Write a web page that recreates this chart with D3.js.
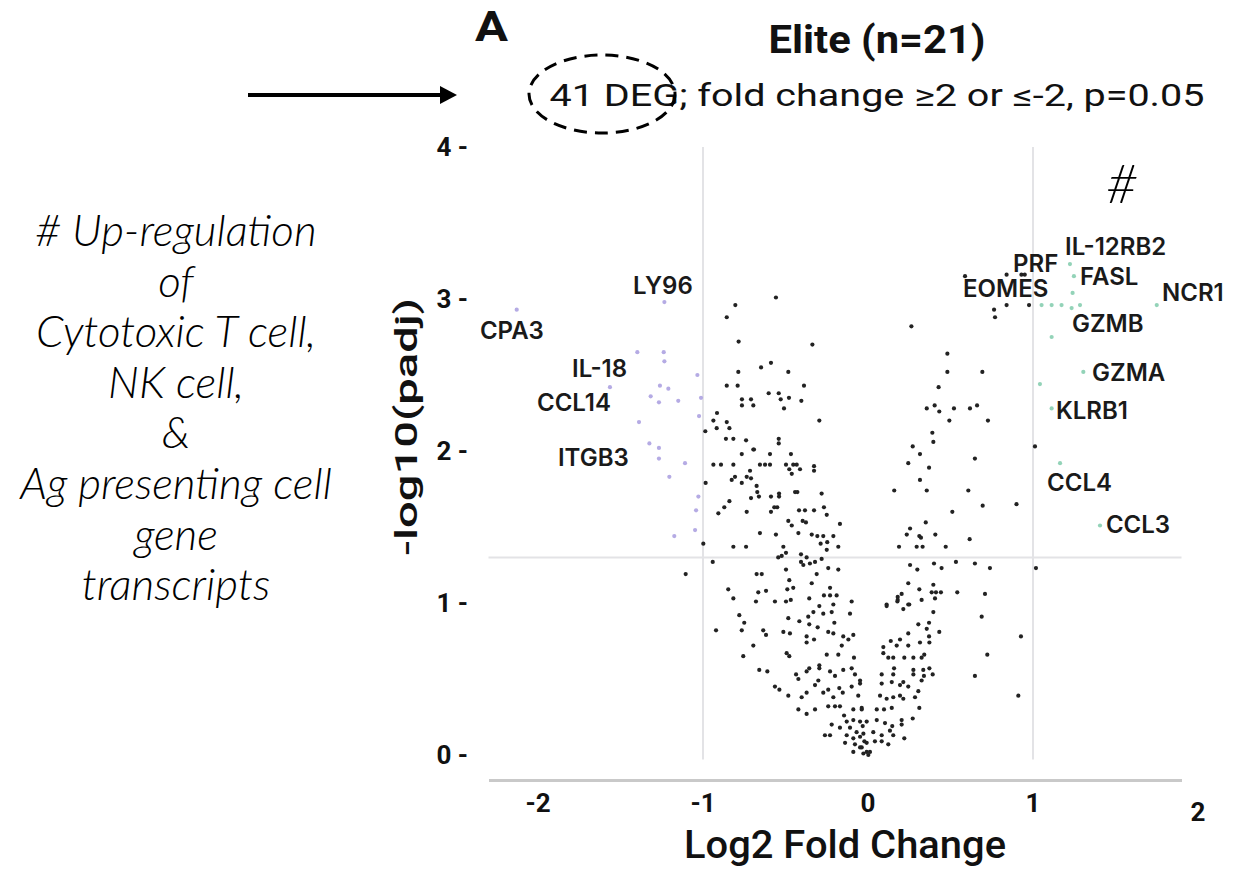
<!DOCTYPE html>
<html><head><meta charset="utf-8">
<script src="https://cdn.jsdelivr.net/npm/d3@7"></script>
<style>body{margin:0;background:#fff;}svg{display:block}</style>
</head><body>
<svg id="c" width="1237" height="891"></svg>
<script>
// ---------- DATA ----------
const xTicks = [-2, -1, 0, 1, 2];
const yTicks = [0, 1, 2, 3, 4];
const fcCutoffs = [-1, 1];          // log2 fold change = ±1 (fold change ±2)
const pCutoff = 1.30;               // -log10(0.05)

// up-regulated DEGs (log2FC, -log10 padj)
const upPoints = [[1.224,3.23],[1.248,3.15],[1.240,3.04],[1.052,2.96],[1.113,2.96],[1.173,2.96],[1.234,2.94],[1.285,2.96],[1.750,2.96],[1.113,2.75],[1.305,2.52],[1.042,2.44],[1.113,2.28],[1.164,1.92],[1.406,1.51]];

// down-regulated DEGs
const downPoints = [[-2.129,2.93],[-1.234,2.98],[-1.398,2.65],[-1.238,2.65],[-1.234,2.59],[-1.034,2.50],[-1.564,2.42],[-1.261,2.43],[-1.210,2.41],[-1.317,2.36],[-1.267,2.32],[-1.150,2.33],[-1.012,2.35],[-1.024,2.23],[-1.388,2.19],[-1.325,2.05],[-1.267,2.02],[-1.267,1.95],[-1.109,1.92],[-1.204,1.83],[-1.028,1.70],[-1.042,1.61],[-1.048,1.48],[-1.174,1.44]];

// other genes
const otherPoints = [
[-0.558,3.01],[-0.804,2.96],[-0.856,2.88],[-0.784,2.72],[-0.337,2.70],[-0.588,2.58],[-0.648,2.55],[-0.786,2.52],[-0.483,2.52],[-0.856,2.43],[-0.790,2.43],[-0.388,2.43],[-0.602,2.38],[-0.541,2.38],[-0.529,2.34],[-0.479,2.35],[-0.404,2.33],[-0.764,2.34],[-0.764,2.30],[-0.709,2.34],[-0.695,2.30],[-0.509,2.28],[-0.915,2.25],[-0.937,2.20],[-0.295,2.20],[-0.856,2.19],[-0.917,2.15],[-0.840,2.15],[-0.986,2.13],[-0.861,2.08],[-0.816,2.08],[-0.739,2.07],[-0.541,2.08],[-0.541,2.05],[-0.695,2.01],
[-0.984,1.79],[-0.998,1.39],[-1.105,1.19],[-0.941,1.27],
[0.588,3.15],[0.84,3.16],[0.93,3.16],[0.95,3.16],[0.84,2.96],[0.976,2.96],[0.764,2.93],[0.770,2.88],[0.263,2.82],[0.481,2.64],[0.481,2.52],[0.693,2.52],[0.428,2.42],[0.356,2.28],[0.404,2.30],[0.432,2.26],[0.521,2.28],[0.618,2.28],[0.661,2.30],[0.493,2.20],[0.727,2.20],[0.390,2.12],[0.396,2.06],[0.271,2.03],[1.012,2.03],[0.90,1.65],[1.018,1.23],
[-0.765,1.98],[-0.691,2.01],[-0.594,1.98],[-0.467,1.98],[-0.937,1.91],[-0.891,1.91],[-0.816,1.91],[-0.655,1.91],[-0.624,1.91],[-0.594,1.91],[-0.497,1.91],[-0.453,1.91],[-0.432,1.91],[-0.477,1.88],[-0.412,1.88],[-0.327,1.90],[-0.327,1.87],[-0.462,1.85],[-0.715,1.87],[-0.826,1.81],[-0.806,1.83],[-0.735,1.83],[-0.709,1.82],[-0.765,1.79],
[-0.675,1.77],[-0.671,1.73],[-0.661,1.70],[-0.709,1.69],[-0.588,1.70],[-0.539,1.72],[-0.539,1.70],[-0.442,1.73],[-0.428,1.73],[-0.281,1.72],[-0.840,1.67],[-0.871,1.63],[-0.907,1.59],[-0.735,1.60],[-0.588,1.60],[-0.568,1.63],[-0.550,1.63],[-0.418,1.61],[-0.382,1.61],[-0.327,1.61],[-0.267,1.63],[-0.250,1.58],[-0.483,1.54],[-0.462,1.51],[-0.396,1.54],[-0.376,1.53],[-0.170,1.52],[-0.655,1.46],[-0.558,1.45],[-0.422,1.46],[-0.341,1.45],[-0.307,1.44],[-0.271,1.44],[-0.210,1.44],[-0.287,1.39],[-0.247,1.40],[-0.250,1.35],[-0.180,1.37],[-0.816,1.37],[-0.739,1.37],[-0.513,1.37],[-0.544,1.30],[-0.523,1.31],[-0.497,1.33],[-0.406,1.32],[-0.372,1.30],[-0.281,1.29],[-0.406,1.27],[-0.392,1.25],[-0.352,1.26],[-0.321,1.27],[-0.241,1.23],[-0.180,1.22],[-0.497,1.22],[-0.311,1.19],[-0.675,1.19],[-0.644,1.19],[-0.477,1.15],[-0.341,1.13],[-0.847,1.09],[-0.816,1.03],[-0.665,1.07],[-0.618,1.08],[-0.489,1.09],[-0.453,1.10],[-0.230,1.10],[-0.267,1.05],[-0.230,1.05],[-0.190,1.05],[-0.679,1.01],[-0.564,1.01],[-0.497,1.01],[-0.468,1.02],[-0.356,1.03],[-0.099,1.01],
[0.315,1.98],[0.244,1.92],[0.370,1.89],[0.648,1.95],[0.315,1.81],[0.159,1.74],[0.356,1.74],[0.608,1.74],[0.695,1.64],[0.511,1.60],[0.350,1.53],[0.255,1.49],[0.235,1.45],[0.311,1.44],[0.321,1.43],[0.408,1.45],[0.188,1.37],[0.295,1.37],[0.331,1.37],[0.471,1.37],[0.616,1.42],[0.255,1.25],[0.299,1.22],[0.400,1.26],[0.446,1.23],[0.533,1.27],[0.648,1.26],[0.739,1.23],[0.244,1.13],[0.396,1.12],[0.311,1.09],[0.386,1.07],[0.412,1.07],[0.442,1.07],[0.541,1.07],[0.709,1.06],[0.204,1.06],[0.180,1.04],[0.180,1.02],[0.325,1.02],[0.406,1.03],[0.113,0.99],[0.244,0.99],
[-0.780,0.92],[-0.750,0.87],[-0.921,0.82],[-0.765,0.82],[-0.635,0.82],[-0.618,0.79],[-0.695,0.72],[-0.756,0.65],[-0.513,0.81],[-0.473,0.80],[-0.483,0.90],[-0.416,0.88],[-0.362,0.91],[-0.331,0.94],[-0.295,0.98],[-0.271,0.93],[-0.210,0.99],[-0.220,0.94],[-0.109,0.93],[-0.356,0.86],[-0.305,0.84],[-0.204,0.87],[-0.241,0.81],[-0.372,0.78],[-0.372,0.74],[-0.327,0.76],[-0.210,0.80],[-0.150,0.78],[-0.089,0.79],[-0.119,0.76],[-0.159,0.72],[-0.493,0.67],[-0.477,0.65],[-0.250,0.66],[-0.180,0.66],[-0.085,0.64],[-0.659,0.56],[-0.610,0.55],[-0.436,0.53],[-0.422,0.50],[-0.372,0.55],[-0.356,0.57],[-0.295,0.59],[-0.295,0.57],[-0.230,0.55],[-0.200,0.52],[-0.150,0.56],[-0.099,0.57],[-0.079,0.53],[-0.048,0.49],[-0.564,0.45],[-0.537,0.43],[-0.483,0.39],[-0.402,0.38],[-0.372,0.41],[-0.321,0.46],[-0.301,0.49],[-0.271,0.41],[-0.241,0.43],[-0.210,0.38],[-0.174,0.44],[-0.153,0.41],[-0.099,0.45],[-0.059,0.39],[-0.241,0.32],[-0.200,0.32],[-0.170,0.32],[-0.422,0.30],[-0.372,0.27],[-0.321,0.30],[-0.145,0.26],[-0.089,0.30],[-0.038,0.30],[-0.220,0.20],[-0.129,0.22],[-0.089,0.23],[-0.048,0.22],[-0.170,0.18],[-0.109,0.18],[-0.069,0.15],[-0.032,0.19],[-0.261,0.13],[-0.230,0.13],[-0.129,0.13],[-0.089,0.11],[-0.048,0.12],[-0.139,0.08],[-0.079,0.07],[-0.038,0.05],[-0.008,0.02],[-0.089,0.02],[-0.022,0.09],[0.002,0.00],
[0.113,0.98],[0.178,1.01],[0.250,0.99],[0.214,0.96],[0.396,0.94],[0.689,0.91],[0.927,0.78],[0.723,0.66],[0.648,0.52],[0.911,0.39],[0.305,0.86],[0.370,0.87],[0.356,0.83],[0.432,0.81],[0.244,0.80],[0.194,0.76],[0.138,0.75],[0.093,0.71],[0.174,0.72],[0.244,0.72],[0.315,0.74],[0.372,0.74],[0.093,0.67],[0.123,0.64],[0.153,0.64],[0.220,0.64],[0.275,0.64],[0.325,0.64],[0.341,0.66],[0.370,0.78],[0.083,0.53],[0.158,0.57],[0.153,0.53],[0.275,0.56],[0.275,0.53],[0.335,0.56],[0.339,0.52],[0.372,0.57],[0.392,0.53],[0.325,0.49],[0.083,0.47],[0.144,0.48],[0.194,0.46],[0.214,0.48],[0.244,0.45],[0.305,0.42],[0.073,0.39],[0.113,0.37],[0.153,0.38],[0.194,0.39],[0.214,0.37],[0.285,0.38],[0.053,0.30],[0.097,0.30],[0.144,0.31],[0.311,0.31],[-0.038,0.31],[-0.048,0.47],[-0.008,0.22],[0.053,0.23],[0.103,0.21],[0.147,0.19],[0.204,0.23],[0.204,0.20],[0.271,0.24],[-0.028,0.14],[0.032,0.15],[0.083,0.13],[0.133,0.16],[0.153,0.13],[0.220,0.11],[-0.008,0.08],[0.042,0.09],[0.083,0.09],[0.123,0.07],[0.012,0.02],[-0.028,0.01],[-0.048,0.05]
];

const geneNames = ["IL-12RB2","PRF","FASL","EOMES","NCR1","GZMB","GZMA","KLRB1","CCL4","CCL3","LY96","CPA3","IL-18","CCL14","ITGB3"];
// label anchor (text start, baseline) in data units
const geneLabelX = [1.194,0.879,1.285,0.576,1.782,1.236,1.358,1.139,1.085,1.442,-1.424,-2.352,-1.794,-2.006,-1.879];
const geneLabelY = [3.29,3.18,3.09,3.01,2.99,2.78,2.46,2.21,1.74,1.46,3.03,2.74,2.49,2.26,1.90];

const titleText = "Elite (n=21)";
const subtitleText = "41 DEG; fold change \u22652 or \u2264-2, p=0.05";
const panelLetter = "A";
const xLabel = "Log2 Fold Change";
const yLabel = "-log10(padj)";
const noteLines = ["# Up-regulation","of","Cytotoxic T cell,","NK cell,","&","Ag presenting cell","gene","transcripts"];

// ---------- DRAW ----------
const svg = d3.select("#c");
const x = d3.scaleLinear().domain([-2.3, 1.9]).range([488.5, 1181.5]);
const y = d3.scaleLinear().domain([0, 4]).range([755, 147]);
const tickFont = "Roboto, 'Liberation Sans', sans-serif";

// reference lines
const g = svg.append("g");
g.selectAll(".vline").data(fcCutoffs).enter().append("line")
  .attr("x1", d => x(d)).attr("x2", d => x(d))
  .attr("y1", y(4)).attr("y2", y(-0.03))
  .attr("stroke", "#e3e3e6").attr("stroke-width", 2);
g.append("line").attr("x1", x(-2.3)).attr("x2", x(1.9))
  .attr("y1", y(pCutoff)).attr("y2", y(pCutoff))
  .attr("stroke", "#e3e3e6").attr("stroke-width", 2);

// x axis: line from the axis generator, labels from the tick list
const xAxisY = y(-0.165);
const xAxis = svg.append("g").attr("transform", `translate(0,${xAxisY})`)
  .call(d3.axisBottom(x).tickValues(xTicks).tickSize(0).tickFormat(""));
xAxis.select(".domain").attr("stroke", "#c9c9c9").attr("stroke-width", 3);
svg.append("g").selectAll("text").data(xTicks).enter().append("text")
  .attr("x", d => x(d)).attr("y", d => xAxisY + (d === 2 ? 41 : 32))
  .attr("text-anchor", "middle")
  .attr("font-family", tickFont).attr("font-weight", 700).attr("font-size", 26)
  .attr("fill", "#111").text(d => d);

// y axis labels from the tick list
svg.append("g").selectAll("text").data(yTicks).enter().append("text")
  .attr("x", 468).attr("y", d => y(d)).attr("dy", "0.36em")
  .attr("text-anchor", "end")
  .attr("font-family", tickFont).attr("font-weight", 700).attr("font-size", 26)
  .attr("fill", "#111").text(d => d + " -");

// points
svg.append("g").selectAll("circle").data(otherPoints).enter().append("circle")
  .attr("cx", d => x(d[0])).attr("cy", d => y(d[1])).attr("r", 2.1)
  .attr("fill", "#222");
svg.append("g").selectAll("circle").data(downPoints).enter().append("circle")
  .attr("cx", d => x(d[0])).attr("cy", d => y(d[1])).attr("r", 2.1)
  .attr("fill", "#b5abe4");
svg.append("g").selectAll("circle").data(upPoints).enter().append("circle")
  .attr("cx", d => x(d[0])).attr("cy", d => y(d[1])).attr("r", 2.1)
  .attr("fill", "#93d3b8");

// gene labels
svg.append("g").selectAll("text").data(geneNames).enter().append("text")
  .attr("x", (d, i) => x(geneLabelX[i])).attr("y", (d, i) => y(geneLabelY[i]))
  .attr("font-family", "Inter, 'Liberation Sans', sans-serif").attr("font-weight", 600)
  .attr("font-size", 24).attr("fill", "#1a1a1a").text(d => d);

// axis titles
svg.append("text").attr("x", 845).attr("y", 858).attr("text-anchor", "middle")
  .attr("font-family", "Roboto, 'Liberation Sans', sans-serif").attr("font-weight", 500)
  .attr("font-size", 38).attr("fill", "#111")
  .attr("textLength", 322).attr("lengthAdjust", "spacingAndGlyphs").text(xLabel);
svg.append("text").attr("transform", "translate(417,427) rotate(-90)").attr("text-anchor", "middle")
  .attr("font-family", "Roboto, 'Liberation Sans', sans-serif").attr("font-weight", 500)
  .attr("font-size", 31).attr("fill", "#111")
  .attr("textLength", 258).attr("lengthAdjust", "spacingAndGlyphs").text(yLabel);

// titles
svg.append("text").attr("x", 877).attr("y", 53).attr("text-anchor", "middle")
  .attr("font-family", "Roboto, 'Liberation Sans', sans-serif").attr("font-weight", 700)
  .attr("font-size", 39).attr("fill", "#111")
  .attr("textLength", 217).attr("lengthAdjust", "spacingAndGlyphs").text(titleText);
svg.append("text").attr("x", 475).attr("y", 41)
  .attr("font-family", "Roboto, 'Liberation Sans', sans-serif").attr("font-weight", 700)
  .attr("font-size", 42).attr("fill", "#111")
  .attr("textLength", 33).attr("lengthAdjust", "spacingAndGlyphs").text(panelLetter);
svg.append("text").attr("x", 877).attr("y", 106).attr("text-anchor", "middle")
  .attr("font-family", "Roboto, 'Liberation Sans', sans-serif").attr("font-weight", 400)
  .attr("font-size", 31).attr("fill", "#111")
  .attr("textLength", 655).attr("lengthAdjust", "spacingAndGlyphs").text(subtitleText);

// dashed ellipse and arrow
svg.append("ellipse").attr("cx", 602).attr("cy", 94).attr("rx", 73).attr("ry", 39)
  .attr("fill", "none").attr("stroke", "#000").attr("stroke-width", 3)
  .attr("stroke-dasharray", "13 8");
svg.append("line").attr("x1", 248).attr("x2", 442).attr("y1", 95).attr("y2", 95)
  .attr("stroke", "#000").attr("stroke-width", 4);
svg.append("path").attr("d", "M440,86 L457,95 L440,104 Z").attr("fill", "#000");

// side note
svg.append("g").selectAll("text").data(noteLines).enter().append("text")
  .attr("x", 176).attr("y", (d, i) => 246 + i * 50.6).attr("text-anchor", "middle")
  .attr("font-family", "Lato, 'Open Sans', sans-serif").attr("font-style", "italic")
  .attr("font-weight", 300).attr("font-size", 44).attr("fill", "#000").text(d => d);

// hash marker
svg.append("text").attr("x", 1122).attr("y", 203).attr("text-anchor", "middle")
  .attr("font-family", "Lato, 'Open Sans', sans-serif").attr("font-style", "italic")
  .attr("font-weight", 300).attr("font-size", 54).attr("fill", "#000").text("#");
</script>
</body></html>
